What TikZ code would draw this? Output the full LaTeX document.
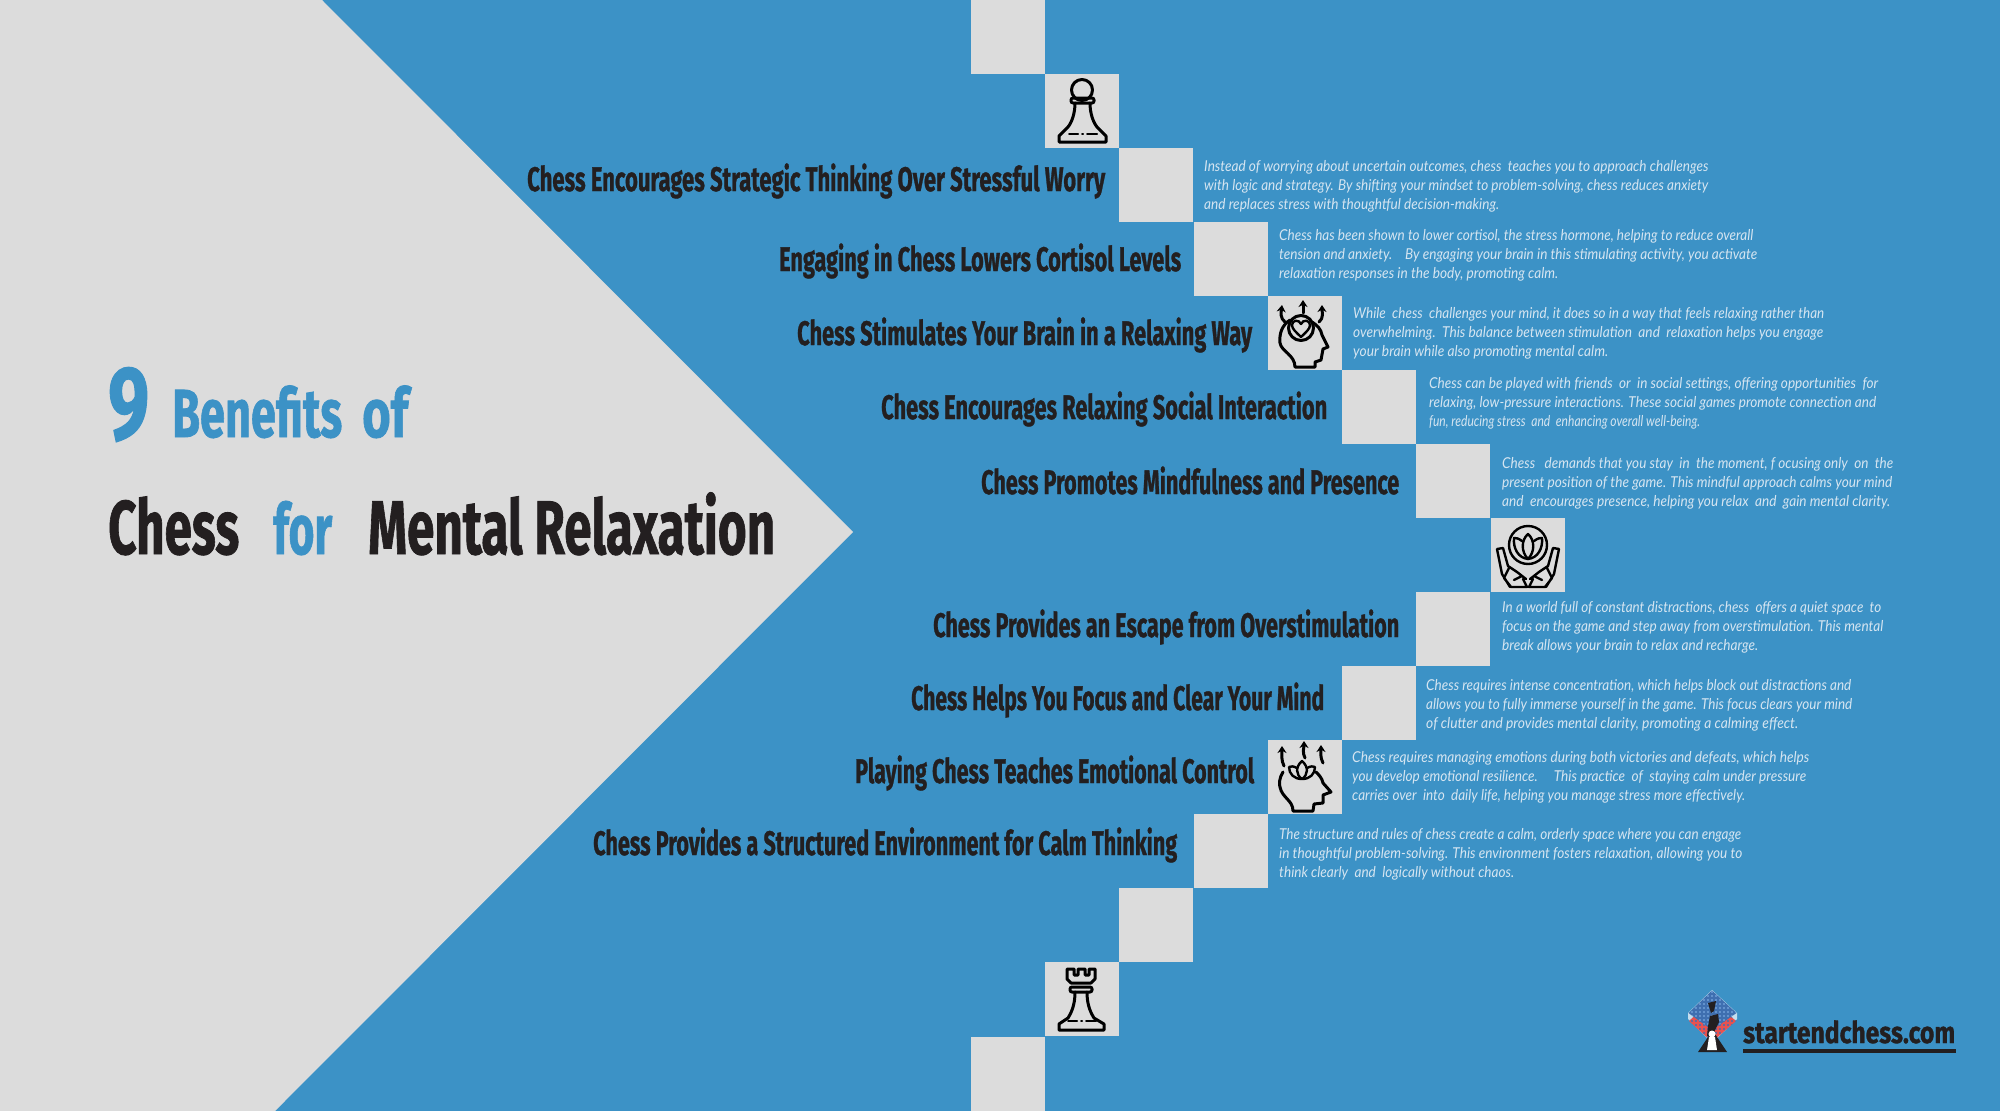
\documentclass[tikz,border=0pt]{standalone}
\usepackage{graphicx}
\usepackage{fontspec}
\usetikzlibrary{arrows.meta}
\setmainfont{Lato}
\newfontfamily\headfont[BoldFeatures={FakeBold=1.2}]{Fira Sans}
\definecolor{bluebg}{HTML}{3C92C6}
\definecolor{greybg}{HTML}{DCDCDC}
\definecolor{inkdark}{HTML}{231F20}
\definecolor{bodytxt}{HTML}{D5E5F1}
\definecolor{logoblue}{HTML}{3F6FB0}
\definecolor{logolight}{HTML}{6FA0D8}
\definecolor{logored}{HTML}{E8524F}
\newcommand\fitw[2]{\resizebox{#1pt}{\height}{#2}}
\tikzset{
  sq/.style={fill=greybg,minimum size=74pt,inner sep=0pt,outer sep=0pt},
  head/.style={anchor=base west,inner sep=0pt,text=inkdark,font=\headfont\bfseries\fontsize{34}{34}\selectfont},
  body/.style={anchor=base west,inner sep=0pt,text=bodytxt,font=\itshape\fontsize{15}{15}\selectfont},
  tblue/.style={anchor=base west,inner sep=0pt,text=bluebg,font=\headfont\bfseries\fontsize{68}{68}\selectfont},
  tdark/.style={anchor=base west,inner sep=0pt,text=inkdark,font=\headfont\bfseries\fontsize{76}{76}\selectfont},
  icon/.style={draw=black,line width=3pt,line join=round,line cap=round},
  arr/.style={icon,-{Stealth[length=7pt,width=9pt]}},
}
\begin{document}
\begin{tikzpicture}[x=1pt,y=-1pt]
\useasboundingbox (0,0) rectangle (2000,1111);
\fill[bluebg] (0,0) rectangle (2000,1111);
\fill[greybg] (0,0) -- (322,0) -- (853,532) -- (275,1111) -- (0,1111) -- cycle;
% squares
\foreach \n/\cx/\cy in {1/1008/37,2/1082/111,3/1156/185,4/1231/259,5/1305/333,6/1379/407,7/1453/481,8/1528/555,9/1453/629,10/1379/703,11/1305/777,12/1231/851,13/1156/925,14/1082/999,15/1008/1074}
  \node[sq] (s\n) at (\cx,\cy) {};
% title
\node[tblue,font=\headfont\bfseries\fontsize{104}{104}\selectfont] (t9) at (108,439) {\fitw{41}{9}};
\node[tblue] (tb) at (172,437) {\fitw{170}{Benefits}};
\node[tblue] (tof) at (362,437) {\fitw{46}{of}};
\node[tdark] (tc) at (108,554) {\fitw{131}{Chess}};
\node[tblue,font=\headfont\bfseries\fontsize{70}{70}\selectfont] (tfor) at (273,554) {\fitw{59}{for}};
\node[tdark] (tm) at (368,554) {\fitw{407}{Mental Relaxation}};
% headings
\node[head] (h1) at (527,191) {\fitw{578}{Chess Encourages Strategic Thinking Over Stressful Worry}};
\node[head] (h2) at (779,271) {\fitw{402}{Engaging in Chess Lowers Cortisol Levels}};
\node[head] (h3) at (797,345) {\fitw{455}{Chess Stimulates Your Brain in a Relaxing Way}};
\node[head] (h4) at (881,419) {\fitw{446}{Chess Encourages Relaxing Social Interaction}};
\node[head] (h5) at (981,494) {\fitw{418}{Chess Promotes Mindfulness and Presence}};
\node[head] (h6) at (933,637) {\fitw{466}{Chess Provides an Escape from Overstimulation}};
\node[head] (h7) at (911,710) {\fitw{413}{Chess Helps You Focus and Clear Your Mind}};
\node[head] (h8) at (855,783) {\fitw{399}{Playing Chess Teaches Emotional Control}};
\node[head] (h9) at (593,855) {\fitw{584}{Chess Provides a Structured Environment for Calm Thinking}};
% descriptions
\node[body] (d1a) at (1204,171) {\fitw{504}{Instead of worrying about uncertain outcomes, chess~~teaches you to approach challenges}};
\node[body] (d1b) at (1204,190) {\fitw{504}{with logic and strategy. By shifting your mindset to problem-solving, chess reduces anxiety}};
\node[body] (d1c) at (1204,209) {\fitw{295}{and replaces stress with thoughtful decision-making.}};
\node[body] (d2a) at (1279,240) {\fitw{474}{Chess has been shown to lower cortisol, the stress hormone, helping to reduce overall}};
\node[body] (d2b) at (1279,259) {\fitw{478}{tension and anxiety.~~~~By engaging your brain in this stimulating activity, you activate}};
\node[body] (d2c) at (1279,278) {\fitw{279}{relaxation responses in the body, promoting calm.}};
\node[body] (d3a) at (1353,318) {\fitw{471}{While~~chess~~challenges your mind, it does so in a way that feels relaxing rather than}};
\node[body] (d3b) at (1353,337) {\fitw{470}{overwhelming.~~This balance between stimulation~~and~~relaxation helps you engage}};
\node[body] (d3c) at (1353,356) {\fitw{255}{your brain while also promoting mental calm.}};
\node[body] (d4a) at (1429,388) {\fitw{449}{Chess can be played with friends~~or~~in social settings, offering opportunities~~for}};
\node[body] (d4b) at (1429,407) {\fitw{447}{relaxing, low-pressure interactions. These social games promote connection and}};
\node[body] (d4c) at (1429,426) {\fitw{271}{fun, reducing stress~~and~~enhancing overall well-being.}};
\node[body] (d5a) at (1502,468) {\fitw{391}{Chess~~~demands that you stay~~in~~the moment, f ocusing only~~on~~the}};
\node[body] (d5b) at (1502,487) {\fitw{390}{present position of the game. This mindful approach calms your mind}};
\node[body] (d5c) at (1502,506) {\fitw{388}{and~~encourages presence, helping you relax~~and~~gain mental clarity.}};
\node[body] (d6a) at (1502,612) {\fitw{379}{In a world full of constant distractions, chess~~offers a quiet space~~to}};
\node[body] (d6b) at (1502,631) {\fitw{381}{focus on the game and step away from overstimulation. This mental}};
\node[body] (d6c) at (1502,650) {\fitw{256}{break allows your brain to relax and recharge.}};
\node[body] (d7a) at (1426,690) {\fitw{425}{Chess requires intense concentration, which helps block out distractions and}};
\node[body] (d7b) at (1426,709) {\fitw{426}{allows you to fully immerse yourself in the game. This focus clears your mind}};
\node[body] (d7c) at (1426,728) {\fitw{372}{of clutter and provides mental clarity, promoting a calming effect.}};
\node[body] (d8a) at (1352,762) {\fitw{457}{Chess requires managing emotions during both victories and defeats, which helps}};
\node[body] (d8b) at (1352,781) {\fitw{454}{you develop emotional resilience.~~~~~This practice~~of~~staying calm under pressure}};
\node[body] (d8c) at (1352,800) {\fitw{393}{carries over~~into~~daily life, helping you manage stress more effectively.}};
\node[body] (d9a) at (1279,839) {\fitw{462}{The structure and rules of chess create a calm, orderly space where you can engage}};
\node[body] (d9b) at (1279,858) {\fitw{463}{in thoughtful problem-solving. This environment fosters relaxation, allowing you to}};
\node[body] (d9c) at (1279,877) {\fitw{235}{think clearly~~and~~logically without chaos.}};
% pawn
\draw[icon] (1082,90) circle (10.5);
\draw[icon,rounded corners=2pt] (1071,98) rectangle (1094,103);
\draw[icon] (1075,103) .. controls (1075,113) and (1072,122) .. (1068,127) -- (1059,136) -- (1059,142) -- (1106,142) -- (1106,136) -- (1097,127) .. controls (1093,122) and (1090,113) .. (1090,103);
\draw[icon,line width=2pt] (1069,133.5) -- (1078,133.5) (1082,133.5) -- (1083,133.5) (1087,133.5) -- (1097,133.5);
% rook
\draw[icon] (1071,983) -- (1067,979) -- (1067,969) -- (1074,969) -- (1074,975) -- (1078,975) -- (1078,969) -- (1085,969) -- (1085,975) -- (1089,975) -- (1089,969) -- (1095,969) -- (1095,979) -- (1091,983) -- cycle;
\draw[icon,rounded corners=2pt] (1070,987) rectangle (1092,992);
\draw[icon] (1075,992) .. controls (1075,1002) and (1073,1010) .. (1068,1018) -- (1059,1024) -- (1059,1030) -- (1104,1030) -- (1104,1024) -- (1094,1018) .. controls (1089,1010) and (1087,1002) .. (1087,992);
\draw[icon,line width=2pt] (1068,1021) -- (1077,1021) (1081,1021) -- (1082,1021) (1086,1021) -- (1096,1021);
% head with heart
\draw[icon] (1301,328) circle (12.5);
\draw[icon,line width=2.4pt] (1301,337) .. controls (1296,332) and (1292,329) .. (1292,325) .. controls (1292,320) and (1299,319) .. (1301,324) .. controls (1303,319) and (1310,320) .. (1310,325) .. controls (1310,329) and (1306,332) .. (1301,337) -- cycle;
\draw[icon] (1290,320) .. controls (1282,325) and (1279,334) .. (1280,343) .. controls (1281,351) and (1295,355) .. (1295,367) -- (1315,367) -- (1315,362) -- (1321,360) -- (1323,349) -- (1328,347) -- (1322,335) .. controls (1321,329) and (1317,325) .. (1312,322);
\draw[arr] (1303,313) -- (1303,300);
\draw[arr] (1285,322) .. controls (1280,318) and (1281,313) .. (1282,305);
\draw[arr] (1319,322) .. controls (1324,318) and (1322,312) .. (1322,305);
% head with lotus
\draw[icon] (1283,772) .. controls (1279,778) and (1279,785) .. (1280,787) .. controls (1282,798) and (1293,800) .. (1293,811) -- (1313,811) -- (1314,804) -- (1323,803) -- (1323,795) -- (1331,792) -- (1323,783) .. controls (1322,778) and (1319,775) .. (1316,772);
\draw[icon,line width=2.4pt] (1302,779) .. controls (1296,775) and (1295,767) .. (1302,761) .. controls (1309,767) and (1308,775) .. (1302,779) -- cycle;
\draw[icon,line width=2.4pt] (1297,768) .. controls (1293,766) and (1291,766) .. (1289,767) .. controls (1289,774) and (1294,779) .. (1302,779) .. controls (1310,779) and (1315,774) .. (1315,767) .. controls (1313,766) and (1311,766) .. (1307,768);
\draw[arr] (1284,766) .. controls (1281,760) and (1282,755) .. (1282,746);
\draw[arr] (1305,758) .. controls (1302,752) and (1304,748) .. (1304,741);
\draw[arr] (1323,763) .. controls (1320,757) and (1321,753) .. (1321,745);
% hands with lotus
\draw[icon,line width=2.4pt] (1528,545) circle (19);
\draw[icon,line width=2.4pt] (1528,534) .. controls (1521,540) and (1521,552) .. (1528,559) .. controls (1535,552) and (1535,540) .. (1528,534) -- cycle;
\draw[icon,line width=2.4pt] (1522,541) .. controls (1518,538) and (1516,538) .. (1514,538) .. controls (1513,548) and (1518,558) .. (1528,559) .. controls (1538,558) and (1543,548) .. (1542,538) .. controls (1540,538) and (1538,538) .. (1534,541);
\foreach \sx in {1,-1}{
\begin{scope}[shift={(1528,0)},xscale=\sx]
\draw[icon,line width=2.4pt] (-31,549) -- (-25,548) -- (-20,566) -- (-11,572) -- (-2,579) (-6,576) -- (-14,580) (-19,568) -- (-24,578) -- (-17,587) -- (-1,587) -- (-5,579) (-31,549) -- (-26,574) -- (-18,587);
\end{scope}}
% logo
\fill[white!70!bluebg] (1712,990) -- (1737,1013) -- (1737,1019) -- (1712,1043) -- (1688,1019) -- (1688,1013) -- cycle;
\begin{scope}
\clip (1712,1000) -- (1736,1021) -- (1712,1042) -- (1689,1021) -- cycle;
\fill[logored] (1680,985) rectangle (1745,1045);
\foreach \i in {-6,...,6} \foreach \j in {-6,...,6}{
  \pgfmathparse{int(mod(\i+\j+12,2))}
  \ifnum\pgfmathresult=0 \fill[logoblue] ({1712+2*(\i-\j)},{1021+2*(\i+\j)}) circle (1.1); \fi}
\end{scope}
\begin{scope}
\clip (1712,990.5) -- (1736.5,1013) -- (1712,1030) -- (1688.5,1013) -- cycle;
\fill[logoblue] (1680,985) rectangle (1745,1045);
\foreach \i in {-6,...,6} \foreach \j in {-6,...,6}{
  \pgfmathparse{int(mod(\i+\j+12,2))}
  \ifnum\pgfmathresult=0 \fill[logolight] ({1712+2*(\i-\j)},{1012+2*(\i+\j)}) circle (1.2); \fi}
\end{scope}
\fill[inkdark] (1708,1003) -- (1716,1001) -- (1714,1011) -- (1711,1013) -- cycle;
\fill[inkdark] (1710,1016) -- (1718,1014) -- (1719,1022) -- (1715,1030) -- (1714,1036) -- (1707,1036) -- (1708,1026) -- cycle;
\fill[inkdark] (1710,1034) -- (1715,1034) -- (1727,1052) -- (1698,1052) -- cycle;
\fill[white] (1712,1034) circle (3.5);
\fill[white] (1709,1037) -- (1715,1037) -- (1717,1050) -- (1707,1050) -- cycle;
\node[anchor=base west,inner sep=0pt,text=inkdark,font=\headfont\bfseries\fontsize{30}{30}\selectfont] (logo) at (1743,1043) {\fitw{212}{startendchess.com}};
\fill[inkdark] (1743,1049) rectangle (1956,1053);
\end{tikzpicture}
\end{document}
